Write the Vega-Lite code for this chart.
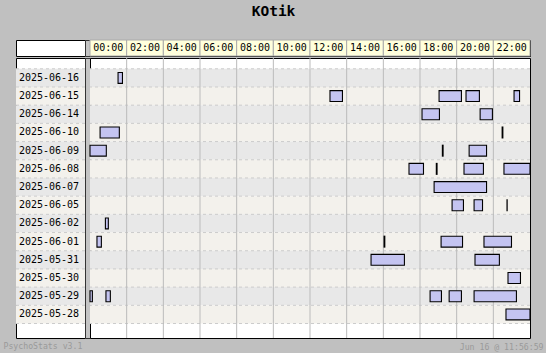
{
  "$schema": "https://vega.github.io/schema/vega-lite/v6.json",
  "background": "#c0c0c0",
  "padding": {"left": 3, "top": 3, "right": 4, "bottom": 2},
  "title": {"text": "KOtik", "font": "DejaVu Sans Mono", "fontSize": 14.5, "fontWeight": "bold", "color": "#000000", "anchor": "middle", "offset": 20},
  "datasets": {
    "rows": [
      {"date": "2025-06-16"}, {"date": "2025-06-15"}, {"date": "2025-06-14"}, {"date": "2025-06-10"},
      {"date": "2025-06-09"}, {"date": "2025-06-08"}, {"date": "2025-06-07"}, {"date": "2025-06-05"},
      {"date": "2025-06-02"}, {"date": "2025-06-01"}, {"date": "2025-05-31"}, {"date": "2025-05-30"},
      {"date": "2025-05-29"}, {"date": "2025-05-28"}
    ],
    "hours": [
      {"hour": 0, "label": "00:00"}, {"hour": 2, "label": "02:00"}, {"hour": 4, "label": "04:00"},
      {"hour": 6, "label": "06:00"}, {"hour": 8, "label": "08:00"}, {"hour": 10, "label": "10:00"},
      {"hour": 12, "label": "12:00"}, {"hour": 14, "label": "14:00"}, {"hour": 16, "label": "16:00"},
      {"hour": 18, "label": "18:00"}, {"hour": 20, "label": "20:00"}, {"hour": 22, "label": "22:00"}
    ],
    "sessions": [
      {"date": "2025-06-16", "start": 1.53, "end": 1.77},
      {"date": "2025-06-15", "start": 13.09, "end": 13.77},
      {"date": "2025-06-15", "start": 19.04, "end": 20.26},
      {"date": "2025-06-15", "start": 20.51, "end": 21.24},
      {"date": "2025-06-15", "start": 23.13, "end": 23.43},
      {"date": "2025-06-14", "start": 18.11, "end": 19.06},
      {"date": "2025-06-14", "start": 21.28, "end": 21.95},
      {"date": "2025-06-10", "start": 0.55, "end": 1.6},
      {"date": "2025-06-10", "start": 22.48, "end": 22.52},
      {"date": "2025-06-09", "start": 0.0, "end": 0.89},
      {"date": "2025-06-09", "start": 19.22, "end": 19.26},
      {"date": "2025-06-09", "start": 20.68, "end": 21.63},
      {"date": "2025-06-08", "start": 17.4, "end": 18.19},
      {"date": "2025-06-08", "start": 18.89, "end": 18.93},
      {"date": "2025-06-08", "start": 20.4, "end": 21.46},
      {"date": "2025-06-08", "start": 22.58, "end": 24.0},
      {"date": "2025-06-07", "start": 18.77, "end": 21.63},
      {"date": "2025-06-05", "start": 19.75, "end": 20.37},
      {"date": "2025-06-05", "start": 20.95, "end": 21.41},
      {"date": "2025-06-05", "start": 22.745, "end": 22.755},
      {"date": "2025-06-02", "start": 0.84, "end": 1.0},
      {"date": "2025-06-01", "start": 0.38, "end": 0.62},
      {"date": "2025-06-01", "start": 16.04, "end": 16.08},
      {"date": "2025-06-01", "start": 19.15, "end": 20.32},
      {"date": "2025-06-01", "start": 21.49, "end": 22.99},
      {"date": "2025-05-31", "start": 15.33, "end": 17.15},
      {"date": "2025-05-31", "start": 21.0, "end": 22.33},
      {"date": "2025-05-30", "start": 22.8, "end": 23.48},
      {"date": "2025-05-29", "start": 0.0, "end": 0.13},
      {"date": "2025-05-29", "start": 0.87, "end": 1.11},
      {"date": "2025-05-29", "start": 18.55, "end": 19.17},
      {"date": "2025-05-29", "start": 19.59, "end": 20.26},
      {"date": "2025-05-29", "start": 20.95, "end": 23.26},
      {"date": "2025-05-28", "start": 22.69, "end": 24.0}
    ]
  },
  "spacing": 0,
  "vconcat": [
    {
      "spacing": 0,
      "bounds": "flush",
      "hconcat": [
        {
          "width": 69, "height": 16,
          "view": {"fill": "#ffffff", "stroke": "#000000"},
          "data": {"values": [{}]},
          "mark": {"type": "text", "text": ""}
        },
        {
          "width": 5, "height": 16,
          "view": {"fill": "#c4c4c4", "stroke": "#333333"},
          "data": {"values": [{}]},
          "mark": {"type": "text", "text": ""}
        },
        {
          "width": 440, "height": 16,
          "view": {"fill": "#ffffdc", "stroke": "#000000"},
          "data": {"name": "hours"},
          "layer": [
            {
              "mark": {"type": "rect", "fill": "#ffffdc", "stroke": "#aaaaaa", "strokeWidth": 1},
              "encoding": {
                "x": {"field": "label", "type": "ordinal", "scale": {"type": "band", "paddingInner": 0, "paddingOuter": 0}, "axis": null}
              }
            },
            {
              "mark": {"type": "text", "font": "DejaVu Sans Mono", "fontSize": 10, "color": "#000000", "align": "center", "baseline": "middle"},
              "encoding": {
                "x": {"field": "label", "type": "ordinal", "scale": {"type": "band", "paddingInner": 0, "paddingOuter": 0}, "axis": null},
                "text": {"field": "label"}
              }
            }
          ]
        }
      ]
    },
    {
      "spacing": 0,
      "bounds": "flush",
      "hconcat": [
        {
          "width": 69, "height": 280,
          "view": {"fill": "#ffffff", "stroke": "#000000"},
          "title": {"text": "PsychoStats v3.1", "orient": "bottom", "anchor": "start", "dx": -12, "offset": 5, "font": "DejaVu Sans Mono", "fontSize": 8.2, "fontWeight": "normal", "color": "#9a9a9a"},
          "data": {"name": "rows"},
          "layer": [
            {
              "mark": {"type": "rect"},
              "encoding": {
                "x": {"datum": 0, "type": "quantitative", "scale": {"domain": [0, 1], "nice": false, "zero": false}, "axis": null},
                "x2": {"datum": 1},
                "y": {"field": "date", "type": "nominal", "sort": null, "scale": {"type": "band", "domain": ["2025-06-16","2025-06-15","2025-06-14","2025-06-10","2025-06-09","2025-06-08","2025-06-07","2025-06-05","2025-06-02","2025-06-01","2025-05-31","2025-05-30","2025-05-29","2025-05-28"], "paddingInner": 0, "paddingOuter": 0.695, "align": 0.427}, "axis": null},
                "color": {"field": "date", "type": "nominal", "scale": {"domain": ["2025-06-16","2025-06-15","2025-06-14","2025-06-10","2025-06-09","2025-06-08","2025-06-07","2025-06-05","2025-06-02","2025-06-01","2025-05-31","2025-05-30","2025-05-29","2025-05-28"], "range": ["#e8e8e8", "#f3f1ec"]}, "legend": null}
              }
            },
            {
              "mark": {"type": "rule", "color": "#cccccc", "strokeDash": [3, 3], "strokeWidth": 1},
              "encoding": {
                "y": {"field": "date", "type": "nominal", "bandPosition": 0, "scale": {"type": "band"}, "axis": null}
              }
            },
            {
              "transform": [{"filter": "datum.date === '2025-05-28'"}],
              "mark": {"type": "rule", "color": "#cccccc", "strokeDash": [3, 3], "strokeWidth": 1},
              "encoding": {
                "y": {"field": "date", "type": "nominal", "bandPosition": 1, "scale": {"type": "band"}, "axis": null}
              }
            },
            {
              "mark": {"type": "text", "font": "DejaVu Sans Mono", "fontSize": 10, "color": "#000000", "align": "center", "baseline": "middle", "dx": -1.5},
              "encoding": {
                "x": {"datum": 0.5, "type": "quantitative"},
                "y": {"field": "date", "type": "nominal", "scale": {"type": "band"}, "axis": null},
                "text": {"field": "date"}
              }
            }
          ]
        },
        {
          "width": 5, "height": 280,
          "view": {"fill": "#c4c4c4", "stroke": "#333333"},
          "data": {"values": [{}]},
          "mark": {"type": "text", "text": ""}
        },
        {
          "width": 440, "height": 280,
          "view": {"fill": "#ffffff", "stroke": "#000000"},
          "title": {"text": "Jun 16 @ 11:56:59", "orient": "bottom", "anchor": "end", "dx": 13, "offset": 5, "font": "DejaVu Sans Mono", "fontSize": 8.2, "fontWeight": "normal", "color": "#9a9a9a"},
          "layer": [
            {
              "data": {"name": "rows"},
              "mark": {"type": "rect"},
              "encoding": {
                "x": {"datum": 0, "type": "quantitative", "scale": {"domain": [0, 24], "nice": false, "zero": false}, "axis": null},
                "x2": {"datum": 24},
                "y": {"field": "date", "type": "nominal", "sort": null, "scale": {"type": "band", "domain": ["2025-06-16","2025-06-15","2025-06-14","2025-06-10","2025-06-09","2025-06-08","2025-06-07","2025-06-05","2025-06-02","2025-06-01","2025-05-31","2025-05-30","2025-05-29","2025-05-28"], "paddingInner": 0, "paddingOuter": 0.695, "align": 0.427}, "axis": null},
                "color": {"field": "date", "type": "nominal", "scale": {"domain": ["2025-06-16","2025-06-15","2025-06-14","2025-06-10","2025-06-09","2025-06-08","2025-06-07","2025-06-05","2025-06-02","2025-06-01","2025-05-31","2025-05-30","2025-05-29","2025-05-28"], "range": ["#e8e8e8", "#f3f1ec"]}, "legend": null}
              }
            },
            {
              "data": {"name": "rows"},
              "mark": {"type": "rule", "color": "#cccccc", "strokeDash": [3, 3], "strokeWidth": 1},
              "encoding": {
                "y": {"field": "date", "type": "nominal", "bandPosition": 0, "scale": {"type": "band"}, "axis": null}
              }
            },
            {
              "data": {"name": "rows"},
              "transform": [{"filter": "datum.date === '2025-05-28'"}],
              "mark": {"type": "rule", "color": "#cccccc", "strokeDash": [3, 3], "strokeWidth": 1},
              "encoding": {
                "y": {"field": "date", "type": "nominal", "bandPosition": 1, "scale": {"type": "band"}, "axis": null}
              }
            },
            {
              "data": {"name": "hours"},
              "transform": [{"filter": "datum.hour > 0"}],
              "mark": {"type": "rule", "color": "#bbbbbb", "strokeWidth": 1},
              "encoding": {
                "x": {"field": "hour", "type": "quantitative"}
              }
            },
            {
              "data": {"name": "sessions"},
              "mark": {"type": "bar", "fill": "#c4c4f1", "stroke": "#000000", "strokeWidth": 1.1, "height": {"band": 0.6}},
              "encoding": {
                "x": {"field": "start", "type": "quantitative"},
                "x2": {"field": "end"},
                "y": {"field": "date", "type": "nominal", "scale": {"type": "band"}, "axis": null}
              }
            }
          ]
        }
      ]
    }
  ],
  "config": {
    "view": {"stroke": "#000000", "strokeWidth": 1},
    "title": {"font": "DejaVu Sans Mono"}
  }
}
